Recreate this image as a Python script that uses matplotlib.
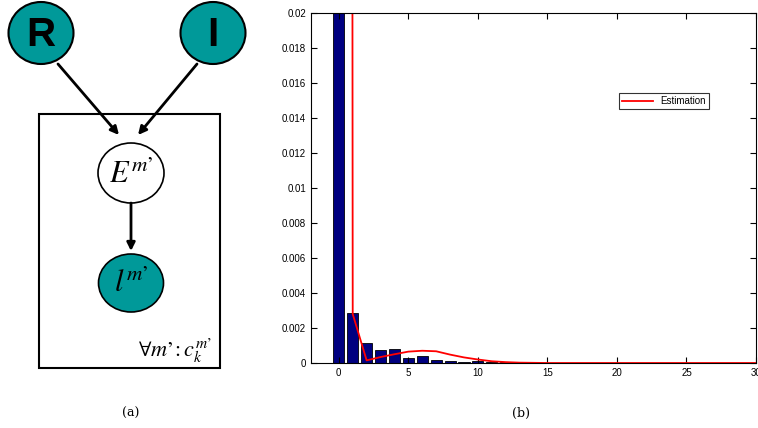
import numpy as np
import matplotlib.pyplot as plt
from matplotlib.patches import Ellipse, Rectangle, FancyArrowPatch

plt.rcParams['mathtext.fontset'] = 'stix'
plt.rcParams['font.family'] = ['Liberation Sans', 'DejaVu Sans']

# histogram bars (b)
bin_x = list(range(0, 31))
bin_h = [0.05, 0.00284, 0.00112, 0.00075, 0.00078, 0.0003, 0.0004, 0.00017,
         0.00013, 0.00006, 0.0001, 0.00005, 0.00003, 0.00002, 0.00002, 0.00001,
         0.0, 0.00001, 0.0, 0.0, 0.0, 0.0, 0.00001, 0.0, 0.0, 0.0, 0.0,
         0.00001, 0.0, 0.00001, 0.0]
# estimated density (red line)
est_x = list(range(0, 31))
est_y = [0.9, 0.0028, 0.00015, 0.00034, 0.0005, 0.00065, 0.0007, 0.00067,
         0.00048, 0.00032, 0.0002, 0.0001, 0.00005, 0.00002, 0.00001, 0.0,
         0.0, 0.0, 0.0, 0.0, 0.0, 0.0, 0.0, 0.0, 0.0, 0.0, 0.0, 0.0, 0.0, 0.0, 0.0]

W, H = 758, 428
fig = plt.figure(figsize=(W / 100, H / 100), dpi=100)

#--- left panel: graphical model, drawn in pixel coords
bg = fig.add_axes([0, 0, 1, 1])
bg.set_xlim(0, W)
bg.set_ylim(H, 0)
bg.axis('off')

teal = '#009999'
bg.add_patch(Ellipse((41, 33), 65, 62, fc=teal, ec='k', lw=1.5))
bg.add_patch(Ellipse((213, 33), 65, 62, fc=teal, ec='k', lw=1.5))
bg.text(41, 35, 'R', fontsize=29, fontweight='bold', ha='center', va='center')
bg.text(213, 35, 'I', fontsize=29, fontweight='bold', ha='center', va='center')

bg.add_patch(Rectangle((39, 114), 181, 254, fc='none', ec='k', lw=1.5))

def arrow(p0, p1):
    bg.add_patch(FancyArrowPatch(p0, p1, arrowstyle='-|>', mutation_scale=12,
                                 lw=2, color='k', shrinkA=0, shrinkB=0))

arrow((58, 64), (119, 135))
arrow((197, 64), (138, 135))

bg.add_patch(Ellipse((131, 173), 66, 60, fc='white', ec='k', lw=1.2))
bg.text(131, 175, "$E^{m\u2019}$", fontsize=22, ha='center', va='center')
arrow((131, 203), (131, 251))
bg.add_patch(Ellipse((131, 283), 65, 58, fc=teal, ec='k', lw=1.2))
bg.text(131, 284, "$l^{m\u2019}$", fontsize=22, ha='center', va='center')
bg.text(212, 357, "$\\forall m\u2019\\!: c_k^{m\u2019}$", fontsize=16,
        ha='right', va='baseline')

bg.text(131, 413, '(a)', fontsize=9, family='DejaVu Serif', ha='center', va='center')
bg.text(521, 413, '(b)', fontsize=9, family='DejaVu Serif', ha='center', va='center')

#--- right panel: histogram + estimation
ax = fig.add_axes([311 / W, (H - 363) / H, 445 / W, 350 / H])
ax.bar(bin_x, bin_h, width=0.8, color='#000080', edgecolor='k', linewidth=0.6)
ax.plot(est_x, est_y, color='red', lw=1.3, label='Estimation')
ax.set_xlim(-2, 30)
ax.set_ylim(0, 0.02)
ax.set_xticks([0, 5, 10, 15, 20, 25, 30])
ax.set_yticks(np.arange(0, 0.0201, 0.002))
ax.set_yticklabels(['0', '0.002', '0.004', '0.006', '0.008', '0.01', '0.012',
                    '0.014', '0.016', '0.018', '0.02'])
ax.tick_params(direction='in', length=4, labelsize=7, right=True, top=True, width=0.8)
for s in ax.spines.values():
    s.set_linewidth(0.8)
leg = ax.legend(loc='upper left', bbox_to_anchor=(0.692, 0.77), fontsize=7,
                frameon=True, fancybox=False, edgecolor='k', borderpad=0.3,
                handlelength=3.2, borderaxespad=0)
leg.get_frame().set_linewidth(0.8)

fig.savefig('out.png', dpi=100)
